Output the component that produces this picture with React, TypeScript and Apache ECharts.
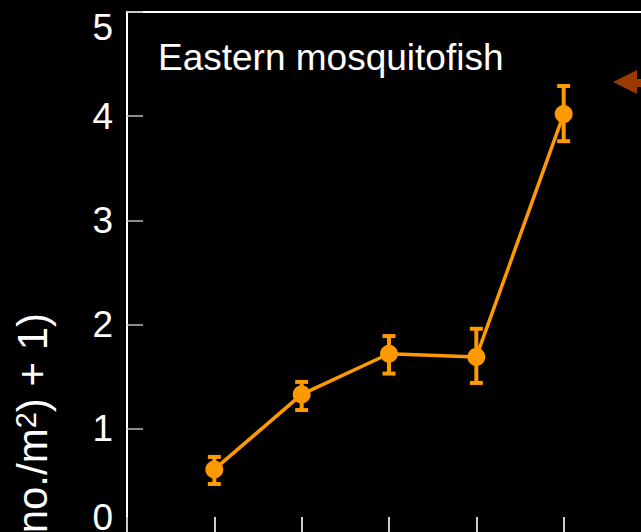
import React, { useEffect, useRef } from "react";
import * as echarts from "echarts";

const xPositions = [1, 2, 3, 4, 5];
const meanValues = [0.61, 1.33, 1.72, 1.69, 4.02];
const lowerValues = [0.47, 1.18, 1.53, 1.44, 3.76];
const upperValues = [0.73, 1.45, 1.89, 1.96, 4.29];
const yTicks = [0, 1, 2, 3, 4, 5];
const titleText = "Eastern mosquitofish";

const ORANGE = "#FF9900";
const FONT = "Liberation Sans, Arial, sans-serif";

export default function App() {
  const ref = useRef<HTMLDivElement>(null);
  useEffect(() => {
    if (!ref.current) return;
    const chart = echarts.init(ref.current, null, { renderer: "svg" });
    const lineData = xPositions.map((x, i) => [x, meanValues[i]]);
    const errData = xPositions.map((x, i) => [x, lowerValues[i], upperValues[i]]);
    const option: any = {
      animation: false,
      backgroundColor: "#000",
      grid: {
        left: 127,
        top: 12,
        right: -10,
        bottom: -1,
        outerBoundsMode: "none",
        containLabel: false,
        show: true,
        borderColor: "#fff",
        borderWidth: 2,
        backgroundColor: "transparent",
      },
      xAxis: {
        type: "value",
        min: 0,
        max: 6,
        interval: 1,
        axisLine: { show: false },
        axisTick: { show: true, inside: true, length: 16, lineStyle: { color: "#ccc", width: 2 } },
        axisLabel: { show: false },
        splitLine: { show: false },
      },
      yAxis: {
        type: "value",
        min: yTicks[0],
        max: yTicks[yTicks.length - 1],
        interval: 1,
        axisLine: { show: true, lineStyle: { color: "#fff", width: 2 } },
        axisTick: { show: true, inside: true, length: 16, lineStyle: { color: "#bbb", width: 1.5 } },
        splitLine: { show: false },
        axisLabel: {
          color: "#fff",
          fontSize: 37,
          fontFamily: FONT,
          margin: 14,
          formatter: (v: number) => {
            if (v === yTicks[yTicks.length - 1]) return `{hi|${v}}`;
            if (v === yTicks[0]) return `{lo|${v}}`;
            return `{n|${v}}`;
          },
          rich: {
            n: { color: "#fff", fontSize: 37, fontFamily: FONT },
            hi: { color: "#fff", fontSize: 37, fontFamily: FONT, padding: [30, 0, 0, 0] },
            lo: { color: "#fff", fontSize: 37, fontFamily: FONT, padding: [0, 0, 32, 0] },
          },
        },
      },
      graphic: [
        {
          type: "text",
          x: 158,
          y: 57,
          style: {
            text: titleText,
            fill: "#fff",
            fontSize: 37,
            fontFamily: FONT,
            textAlign: "left",
            textVerticalAlign: "middle",
          },
        },
        {
          type: "text",
          x: 32,
          y: 313,
          rotation: Math.PI / 2,
          style: {
            text: "{a|Log(density (no./m}{s|2}{a|) + 1)}",
            fill: "#fff",
            fontSize: 42,
            fontFamily: FONT,
            textAlign: "right",
            textVerticalAlign: "middle",
            rich: {
              a: { fill: "#fff", fontSize: 42, fontFamily: FONT },
              s: { fill: "#fff", fontSize: 29, fontFamily: FONT, verticalAlign: "top", padding: [0, 0, 6, 0] },
            },
          },
        },
        {
          type: "polygon",
          shape: { points: [[613, 82], [637, 70], [637, 94]] },
          style: { fill: "#9b3a00" },
        },
        {
          type: "rect",
          shape: { x: 636, y: 79, width: 12, height: 8 },
          style: { fill: "#9b3a00" },
        },
      ],
      series: [
        {
          type: "custom",
          data: errData,
          z: 2,
          clip: false,
          renderItem: (params: any, api: any) => {
            const x = api.value(0);
            const lo = api.coord([x, api.value(1)]);
            const hi = api.coord([x, api.value(2)]);
            const hw = 6.5;
            const st = { stroke: ORANGE, lineWidth: 4 };
            return {
              type: "group",
              children: [
                { type: "line", shape: { x1: lo[0], y1: lo[1], x2: hi[0], y2: hi[1] }, style: st },
                { type: "line", shape: { x1: hi[0] - hw, y1: hi[1], x2: hi[0] + hw, y2: hi[1] }, style: st },
                { type: "line", shape: { x1: lo[0] - hw, y1: lo[1], x2: lo[0] + hw, y2: lo[1] }, style: st },
              ],
            };
          },
        },
        {
          type: "line",
          data: lineData,
          z: 3,
          symbol: "circle",
          symbolSize: 18,
          itemStyle: { color: ORANGE },
          lineStyle: { color: ORANGE, width: 3.5 },
        },
      ],
    };
    chart.setOption(option);
    return () => chart.dispose();
  }, []);
  return (
    <div
      ref={ref}
      style={{ position: "absolute", left: 0, top: 0, width: 641, height: 532, background: "#000" }}
    />
  );
}
